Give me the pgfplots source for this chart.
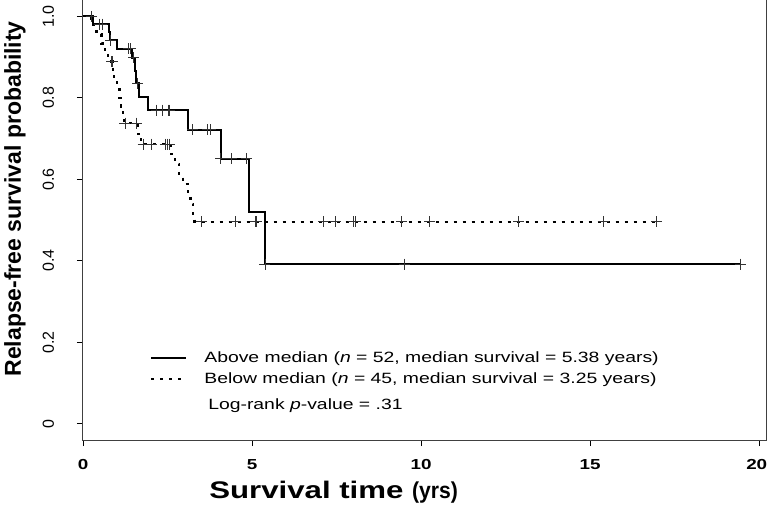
\documentclass[border=0pt]{standalone}
\usepackage{fontspec}
\setmainfont{Liberation Sans}[FakeStretch=1.3]
\newfontfamily\plainfont{Liberation Sans}
\newfontfamily\narrowfont{Liberation Sans}[FakeStretch=0.92]
\usepackage{pgfplots}
\pgfplotsset{compat=1.18}
\newcommand{\yl}[1]{\rotatebox{90}{\plainfont\fontsize{16}{16}\selectfont #1}\rule{19.5pt}{0pt}}
\newcommand{\xl}[1]{{\bfseries\fontsize{14.5}{14.5}\selectfont #1}}

\begin{document}
\begin{tikzpicture}[x=1pt,y=1pt]
\useasboundingbox (-83,-64) rectangle (685,440);
\begin{axis}[
  at={(0,0)}, anchor=south west,
  width=683pt, height=440pt, scale only axis,
  xmin=0, xmax=20.2, ymin=-0.04, ymax=1.04,
  axis line style={black!75, line width=1pt},
  tick align=outside, major tick length=6pt,
  tick style={black, line width=0.8pt},
  xtick pos=bottom, ytick pos=left,
  xtick={0,5,10,15,20},
  xticklabels={\xl{0},\xl{5},\xl{10},\xl{15},{\kern-5pt\xl{20}}},
  ytick={0,0.2,0.4,0.6,0.8,1},
  yticklabels={\yl{0},\yl{0.2},\yl{0.4},\yl{0.6},\yl{0.8},\yl{1.0}},
  xticklabel shift=9.5pt,
  xlabel={\bfseries\fontsize{24}{24}\selectfont Survival time {\narrowfont\fontsize{23}{23}\selectfont (yrs)}},
  xlabel style={at={(axis description cs:0.367,0)}, anchor=center, yshift=-52pt},
  ylabel={Relapse-free survival probability},
  ylabel style={at={(axis description cs:-0.0996,0.548)}, anchor=center, font=\plainfont\bfseries\fontsize{23}{23}\selectfont},
  legend style={at={(axis cs:1.98,0.182)}, anchor=north west, draw=none, fill=none,
    font=\fontsize{14.9}{16}\selectfont, inner sep=0pt, row sep=5pt,
    nodes={inner sep=2pt}},
  legend cell align=left,
  legend image code/.code={\draw[#1] (0pt,0pt) -- (35pt,0pt);},
]
% Above median (solid)
\addplot[const plot, black, line width=2pt] coordinates {
 (0,1.000) (0.30,0.981) (0.76,0.961) (0.81,0.941) (1.01,0.920)
 (1.46,0.898) (1.55,0.866) (1.58,0.836) (1.65,0.802) (1.93,0.770)
 (3.12,0.722) (4.07,0.650) (4.91,0.519) (5.37,0.392) (19.45,0.392)
};
\addlegendentry{\rule{15pt}{0pt}Above median (\textit{n} = 52, median survival = 5.38 years)}
% Below median (dotted)
\addplot[const plot, black, line width=2.2pt, dash pattern=on 3pt off 6pt] coordinates {
 (0,1.000) (0.25,0.978) (0.40,0.956) (0.55,0.933) (0.65,0.911) (0.75,0.889)
 (0.88,0.866) (0.92,0.844) (1.00,0.822) (1.08,0.800) (1.12,0.778) (1.18,0.756)
 (1.22,0.738) (1.62,0.712) (1.72,0.686) (2.60,0.662) (2.72,0.638) (2.85,0.613)
 (2.95,0.589) (3.10,0.564) (3.18,0.540) (3.25,0.515) (3.30,0.496) (17.0,0.496)
};
\addlegendentry{\rule{15pt}{0pt}Below median (\textit{n} = 45, median survival = 3.25 years)}
% censor marks, above median
\addplot[only marks, mark=+, mark size=5.5pt, black!80, line width=0.8pt, forget plot] coordinates {
 (0.24,1.000) (0.49,0.981) (0.56,0.981) (0.82,0.941) (1.34,0.920) (1.41,0.920)
 (1.50,0.898) (1.62,0.836) (2.18,0.770) (2.36,0.770) (2.52,0.770) (2.56,0.770)
 (3.24,0.722) (3.69,0.722) (3.76,0.722) (4.07,0.650) (4.40,0.650) (4.84,0.650)
 (5.38,0.392) (9.50,0.392) (19.44,0.392)
};
% censor marks, below median
\addplot[only marks, mark=+, mark size=5.5pt, black!80, line width=0.8pt, forget plot] coordinates {
 (0.85,0.889) (0.88,0.889) (1.24,0.738) (1.57,0.738) (1.78,0.686) (2.03,0.686)
 (2.43,0.686) (2.50,0.686) (2.55,0.686) (3.51,0.496) (4.50,0.496) (5.09,0.496)
 (5.14,0.496) (7.11,0.496) (7.46,0.496) (8.00,0.496) (8.05,0.496) (9.43,0.496)
 (10.25,0.496) (12.88,0.496) (15.40,0.496) (16.97,0.496)
};
\node[anchor=west, font=\fontsize{14.9}{16}\selectfont] at (axis cs:3.60,0.045) {Log-rank \textit{p}-value = .31};
\end{axis}
\end{tikzpicture}
\end{document}
